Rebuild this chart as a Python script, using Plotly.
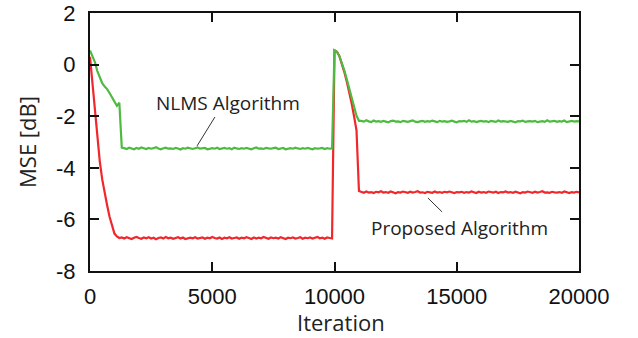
import plotly.graph_objects as go

iterations = list(range(0, 20001, 100))

nlms_mse = [
    0.55, 0.35, 0.1, -0.25, -0.5, -0.72, -0.85, -0.95, -1.1, -1.25, -1.42, -1.6, -1.48,
    -3.22,
    -3.24, -3.27, -3.22, -3.25, -3.28, -3.23, -3.26, -3.21, -3.25, -3.27,
    -3.23, -3.26, -3.24, -3.20, -3.25, -3.28, -3.24, -3.22, -3.26, -3.25,
    -3.27, -3.23, -3.25, -3.29, -3.24, -3.26, -3.22, -3.25, -3.27, -3.24,
    -3.21, -3.26, -3.25, -3.23, -3.28, -3.25, -3.24, -3.26, -3.22, -3.27,
    -3.25, -3.23, -3.26, -3.24, -3.28, -3.22, -3.25, -3.27, -3.24, -3.26,
    -3.23, -3.25, -3.28, -3.24, -3.21, -3.26, -3.25, -3.27, -3.23, -3.25,
    -3.26, -3.24, -3.22, -3.27, -3.25, -3.23, -3.28, -3.25, -3.24, -3.26,
    -3.22, -3.25, -3.27, -3.24, -3.26, -3.23, -3.25, -3.28, -3.24, -3.26,
    -3.25, -3.23, -3.27, -3.24, -3.26, -3.25,
    0.55,
    0.5, 0.33, 0.08, -0.22, -0.56, -0.9, -1.25, -1.6, -1.98, -2.18,
    -2.18, -2.21, -2.16, -2.20, -2.23, -2.17, -2.21, -2.19, -2.22, -2.18,
    -2.20, -2.24, -2.19, -2.17, -2.21, -2.20, -2.23, -2.18, -2.20, -2.22,
    -2.19, -2.16, -2.21, -2.23, -2.20, -2.18, -2.22, -2.19, -2.21, -2.17,
    -2.20, -2.23, -2.18, -2.21, -2.19, -2.22, -2.20, -2.17, -2.21, -2.24,
    -2.19, -2.20, -2.18, -2.22, -2.16, -2.21, -2.19, -2.23, -2.20, -2.18,
    -2.21, -2.19, -2.23, -2.18, -2.20, -2.22, -2.17, -2.21, -2.19, -2.20,
    -2.22, -2.18, -2.21, -2.24, -2.19, -2.20, -2.17, -2.22, -2.20, -2.19,
    -2.21, -2.18, -2.23, -2.20, -2.19, -2.22, -2.16, -2.21, -2.20, -2.18,
    -2.22, -2.19, -2.21, -2.17, -2.23, -2.20, -2.18, -2.21, -2.19, -2.20,
]

proposed_mse = [
    0.3, -0.7, -1.75, -2.8, -3.75, -4.45, -5.0, -5.45, -5.9, -6.28, -6.55, -6.66, -6.72,
    -6.70, -6.74, -6.69, -6.73, -6.76, -6.71, -6.68, -6.72, -6.75, -6.70,
    -6.73, -6.69, -6.74, -6.71, -6.77, -6.72, -6.70, -6.74, -6.68, -6.73,
    -6.71, -6.75, -6.72, -6.69, -6.74, -6.70, -6.76, -6.72, -6.71, -6.73,
    -6.69, -6.74, -6.72, -6.70, -6.75, -6.71, -6.73, -6.68, -6.72, -6.74,
    -6.70, -6.76, -6.71, -6.73, -6.69, -6.74, -6.72, -6.70, -6.75, -6.71,
    -6.73, -6.69, -6.72, -6.76, -6.70, -6.74, -6.71, -6.73, -6.68, -6.72,
    -6.75, -6.70, -6.73, -6.71, -6.74, -6.69, -6.72, -6.76, -6.71, -6.73,
    -6.70, -6.74, -6.72, -6.69, -6.75, -6.71, -6.73, -6.70, -6.74, -6.72,
    -6.68, -6.73, -6.71, -6.75, -6.70, -6.72, -6.74,
    0.55,
    0.5, 0.33, 0.06, -0.28, -0.65, -1.05, -1.5, -2.0, -2.55, -4.9,
    -4.93, -4.97, -4.92, -4.96, -4.94, -4.98, -4.93, -4.95, -4.91, -4.96,
    -4.94, -4.97, -4.92, -4.95, -4.99, -4.94, -4.96, -4.92, -4.95, -4.97,
    -4.93, -4.96, -4.94, -4.91, -4.96, -4.95, -4.98, -4.93, -4.95, -4.97,
    -4.92, -4.96, -4.94, -4.97, -4.93, -4.95, -4.92, -4.96, -4.98, -4.94,
    -4.95, -4.93, -4.97, -4.94, -4.96, -4.92, -4.95, -4.98, -4.93, -4.96,
    -4.94, -4.97, -4.92, -4.95, -4.96, -4.93, -4.98, -4.94, -4.95, -4.92,
    -4.96, -4.94, -4.97, -4.93, -4.95, -4.99, -4.94, -4.96, -4.92, -4.95,
    -4.97, -4.93, -4.96, -4.94, -4.91, -4.96, -4.95, -4.97, -4.93, -4.95,
    -4.96, -4.94, -4.97, -4.92, -4.95, -4.98, -4.94, -4.96, -4.93, -4.95,
]

x_ticks = [0, 5000, 10000, 15000, 20000]
x_tick_labels = ["0", "5000", "10000", "15000", "20000"]
y_ticks = [-8, -6, -4, -2, 0, 2]
y_tick_labels = ["-8", "-6", "-4", "-2", "0", "2"]

GREEN = "#4fba42"
RED = "#f0282c"

fig = go.Figure()
fig.add_trace(go.Scatter(x=iterations, y=proposed_mse, mode="lines",
                         line=dict(color=RED, width=2.2), name="Proposed Algorithm"))
fig.add_trace(go.Scatter(x=iterations, y=nlms_mse, mode="lines",
                         line=dict(color=GREEN, width=2.2), name="NLMS Algorithm"))

axis_common = dict(
    showline=True, linecolor="#111111", linewidth=2, mirror="ticks",
    ticks="inside", ticklen=9, tickwidth=1.5, tickcolor="#111111",
    showgrid=False, zeroline=False, ticklabeloverflow="allow",
    tickfont=dict(family="Liberation Sans", size=22, color="#111111"),
)

fig.update_xaxes(range=[0, 20000], tickvals=x_ticks, ticktext=x_tick_labels,
                 ticklabelstandoff=5, **axis_common)
fig.update_yaxes(range=[-8, 2], tickvals=y_ticks, ticktext=y_tick_labels,
                 ticklabelstandoff=8, **axis_common)

title_font = dict(family="Open Sans", size=22, color="#222222")
fig.add_annotation(xref="paper", yref="paper", x=0.513, y=-0.198,
                   xanchor="center", yanchor="middle", text="Iteration",
                   showarrow=False, font=title_font)
fig.add_annotation(xref="paper", yref="paper", x=-0.129, y=0.5,
                   xanchor="center", yanchor="middle", text="MSE [dB]",
                   textangle=-90, showarrow=False, font=title_font)

fig.add_annotation(x=5650, y=-1.5, text="NLMS Algorithm", showarrow=False,
                   font=dict(family="Open Sans", size=19, color="#222222"))
fig.add_annotation(x=15100, y=-6.33, text="Proposed Algorithm", showarrow=False,
                   font=dict(family="Open Sans", size=19, color="#222222"))
fig.add_shape(type="line", x0=5110, y0=-2.03, x1=4380, y1=-3.15,
              line=dict(color="#333333", width=1))
fig.add_shape(type="line", x0=13820, y0=-5.17, x1=14400, y1=-5.71,
              line=dict(color="#333333", width=1))

fig.update_layout(
    width=638, height=338,
    margin=dict(l=90, r=59, t=13, b=67, autoexpand=False),
    paper_bgcolor="white", plot_bgcolor="white",
    showlegend=False,
)

fig.write_html("out.html", config={"displayModeBar": False},
               post_script="document.body.style.margin='0';document.body.style.overflow='hidden';")
